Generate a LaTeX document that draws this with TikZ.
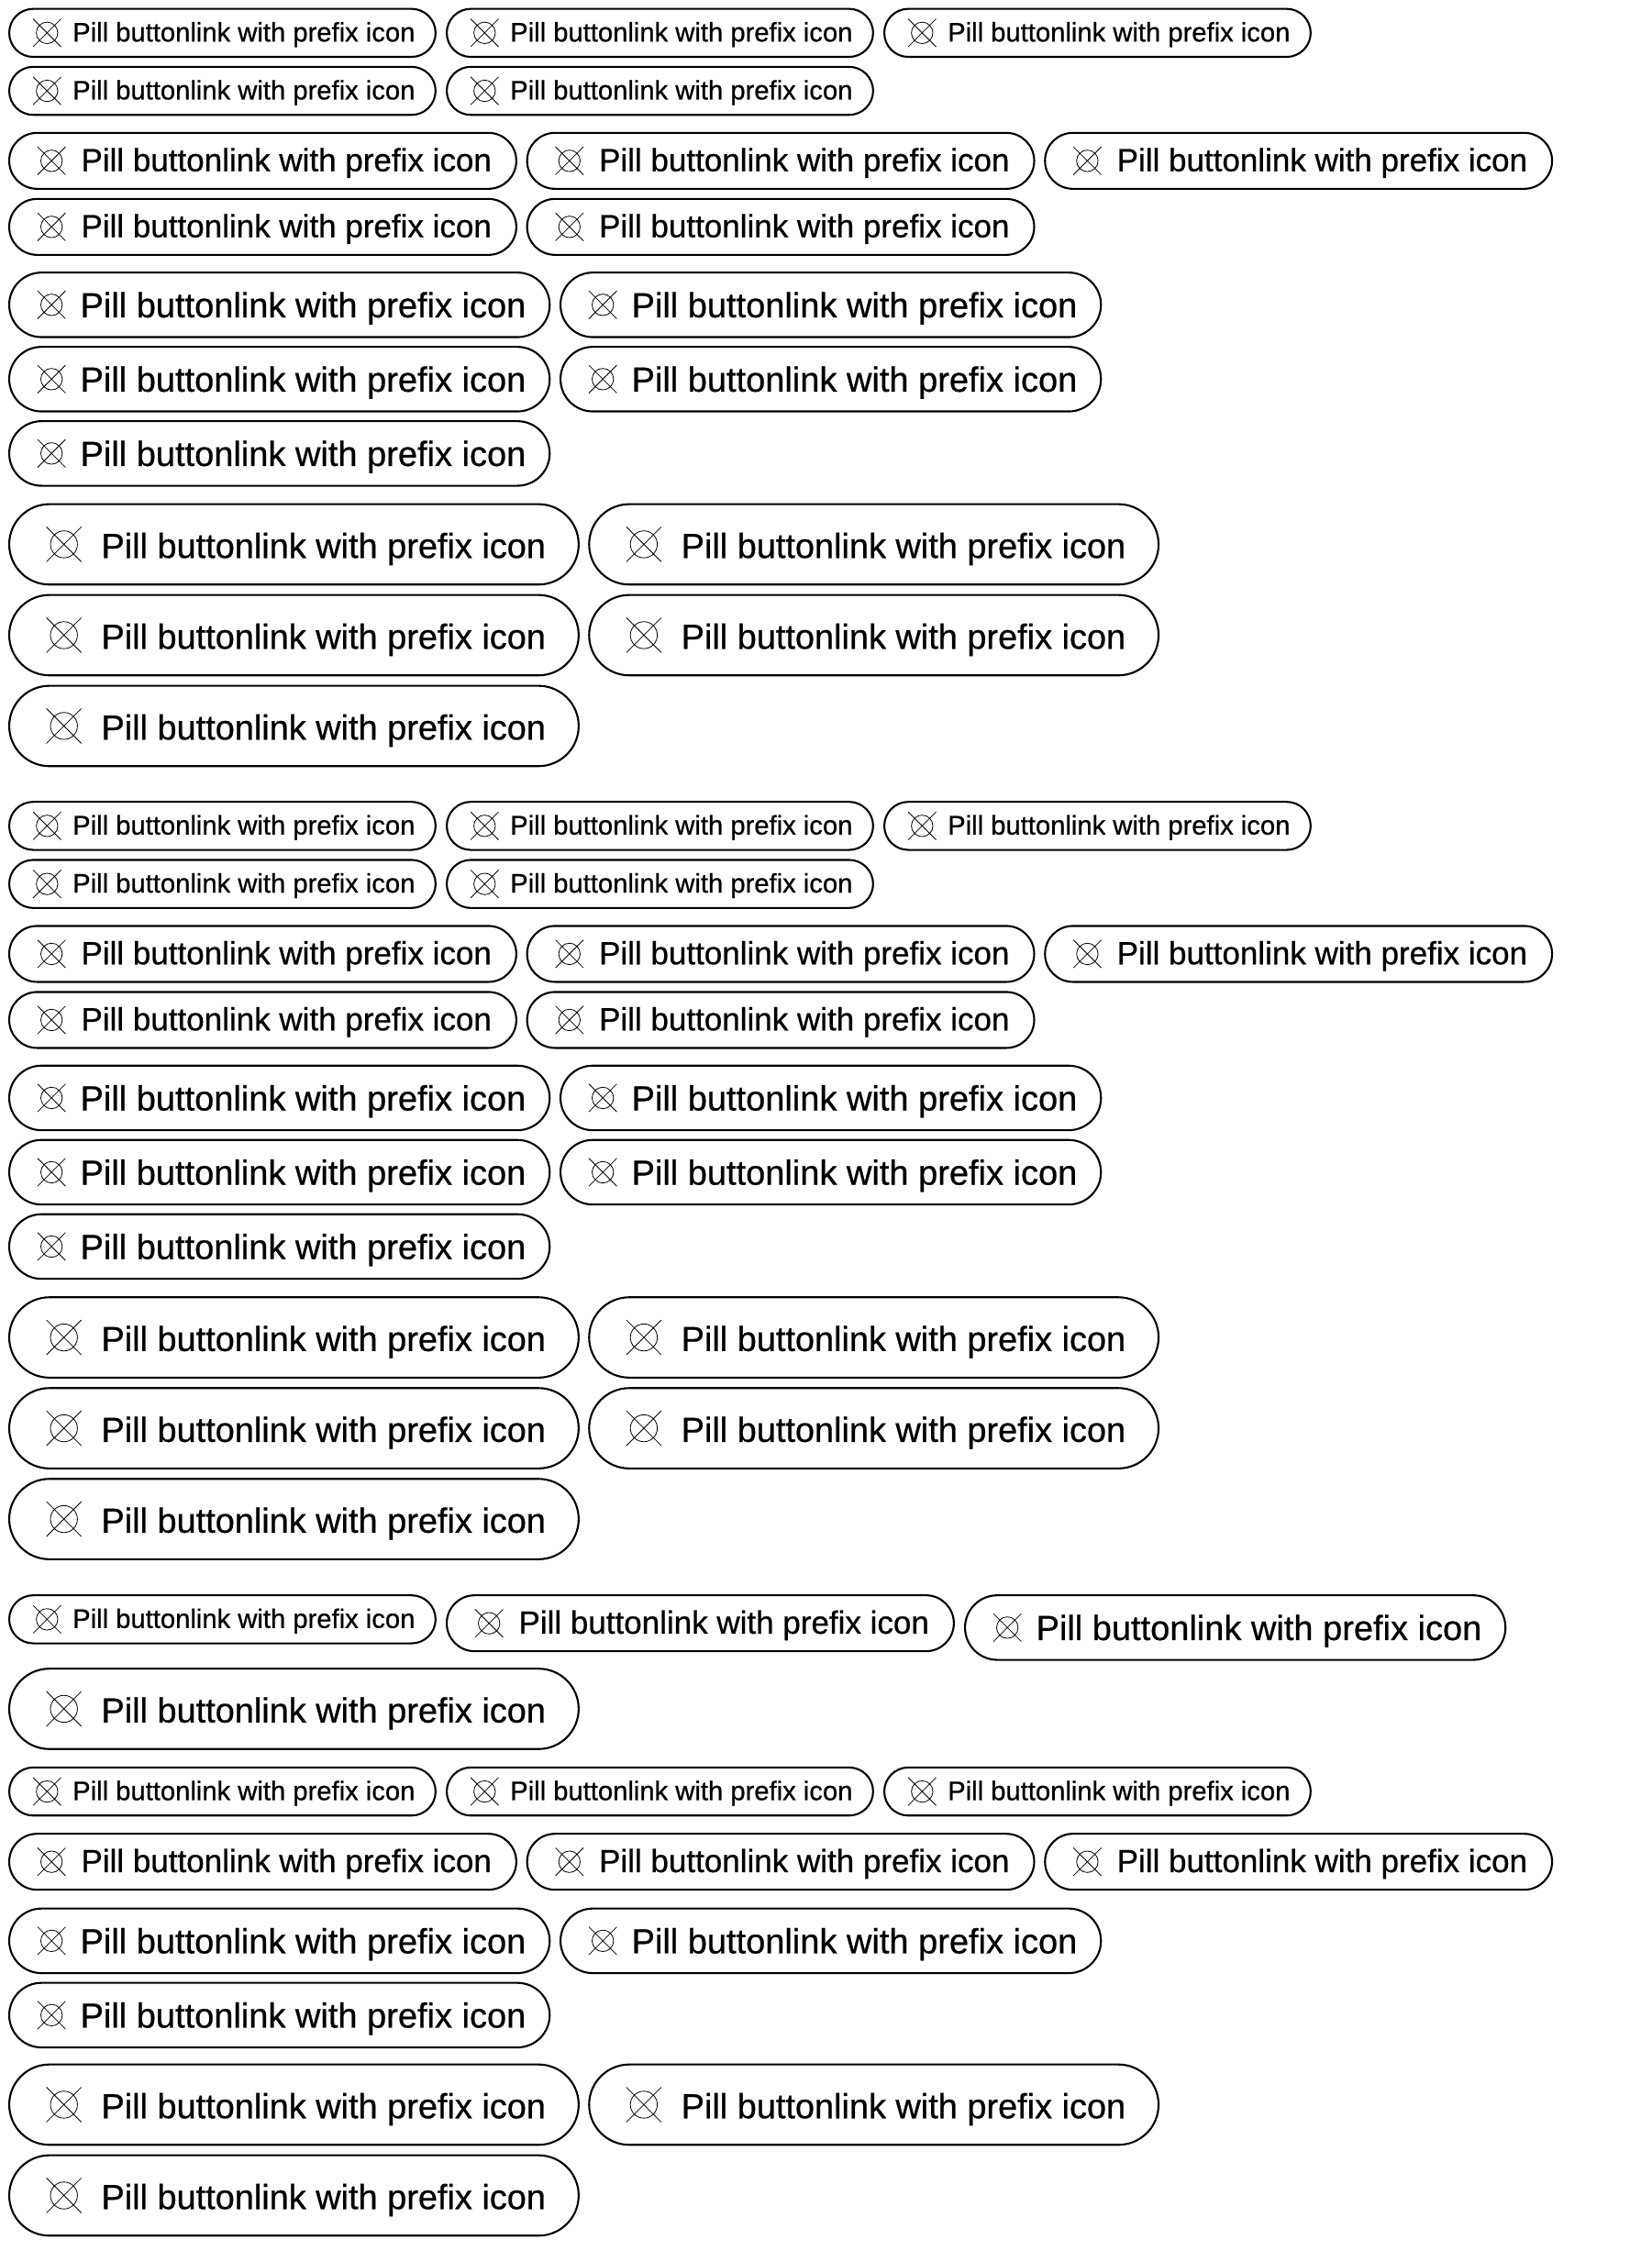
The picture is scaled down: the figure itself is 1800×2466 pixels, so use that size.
\documentclass[tikz,border=0pt]{standalone}
\usepackage{fontspec}
\usepackage{tikz}
\usetikzlibrary{calc}
\setmainfont{Liberation Sans}[FakeBold=0.7]

% sizes in reference pixels: text x, text y, icon x, icon half size, circle radius
\def\txS{69.8}\def\tyS{9.4}\def\ixS{42.3}\def\ihS{15.2}\def\irS{11.7}
\def\txM{79.1}\def\tyM{11.3}\def\ixM{47.2}\def\ihM{15.2}\def\irM{11.7}
\def\txL{78.2}\def\tyL{13.6}\def\ixL{47.2}\def\ihL{15.2}\def\irL{11.7}
\def\txX{101.1}\def\tyX{14.8}\def\ixX{60.7}\def\ihX{19}\def\irX{14.7}

\tikzset{
	pillbox/.style={draw=black, line width=1.05pt, inner sep=0pt, anchor=north west},
	pillS/.style={pillbox, minimum width=232.4pt, minimum height=26.2pt, rounded corners=13.1pt},
	pillM/.style={pillbox, minimum width=276.4pt, minimum height=30.5pt, rounded corners=15.2pt},
	pillL/.style={pillbox, minimum width=294.6pt, minimum height=35.2pt, rounded corners=17.6pt},
	pillX/.style={pillbox, minimum width=310.4pt, minimum height=43.8pt, rounded corners=21.9pt},
	pilltext/.style={inner sep=0pt, anchor=base west, text=black},
	textS/.style={pilltext, font=\fontsize{14.6pt}{16pt}\selectfont},
	textM/.style={pilltext, font=\fontsize{17.5pt}{20pt}\selectfont},
	textL/.style={pilltext, font=\fontsize{19pt}{22pt}\selectfont},
	textX/.style={pilltext, font=\fontsize{18.95pt}{22pt}\selectfont},
	iconline/.style={draw=black, line width=0.4pt}
}

% name, size, x, y
\newcommand{\pillbutton}[4]{%
	\node[pill#2] (#1) at (#3,#4) {};
	\node[text#2] (#1t) at ($(#1.west)+(\csname tx#2\endcsname,\csname ty#2\endcsname)$) {Pill buttonlink with prefix icon};
	\coordinate (#1i) at ($(#1.west)+(\csname ix#2\endcsname,0)$);
	\draw[iconline, shift={(#1i)}] (0,0) circle[radius=\csname ir#2\endcsname]
		(-\csname ih#2\endcsname,-\csname ih#2\endcsname) -- (\csname ih#2\endcsname,\csname ih#2\endcsname)
		(-\csname ih#2\endcsname,\csname ih#2\endcsname) -- (\csname ih#2\endcsname,-\csname ih#2\endcsname);
}

\begin{document}
\begin{tikzpicture}[x=0.5pt, y=-0.5pt]
	\useasboundingbox (0,0) rectangle (1800,2466);
	% rows: size / column step / columns / top
	\foreach \sz/\dx/\n/\y [count=\r] in {
		S/477/3/8.6, S/477/2/71.8,
		M/564.6/3/143.8, M/564.6/2/215.8,
		L/601/2/296.1, L/601/2/377.1, L/601/1/458.1,
		X/632.2/2/548.6, X/632.2/2/647.6, X/632.2/1/746.6,
		S/477/3/873.1, S/477/2/936.4,
		M/564.6/3/1008.4, M/564.6/2/1080.4,
		L/601/2/1160.7, L/601/2/1241.7, L/601/1/1322.7,
		X/632.2/2/1413.2, X/632.2/2/1512.2, X/632.2/1/1611.2,
		S/477/3/1925.8, M/564.6/3/1998.1,
		L/601/2/2079.6, L/601/1/2160.6,
		X/632.2/2/2249.6, X/632.2/1/2348.6} {
		\foreach \c in {1,...,\n} {
			\pgfmathsetmacro{\xp}{9+(\c-1)*\dx}
			\pillbutton{p\r-\c}{\sz}{\xp}{\y}
		}
	}
	% the row with mixed sizes
	\pillbutton{mixa}{S}{9}{1738.1}
	\pillbutton{mixb}{M}{486}{1738.1}
	\pillbutton{mixc}{L}{1051}{1738.1}
	\pillbutton{mixd}{X}{9}{1818.1}
\end{tikzpicture}
\end{document}
